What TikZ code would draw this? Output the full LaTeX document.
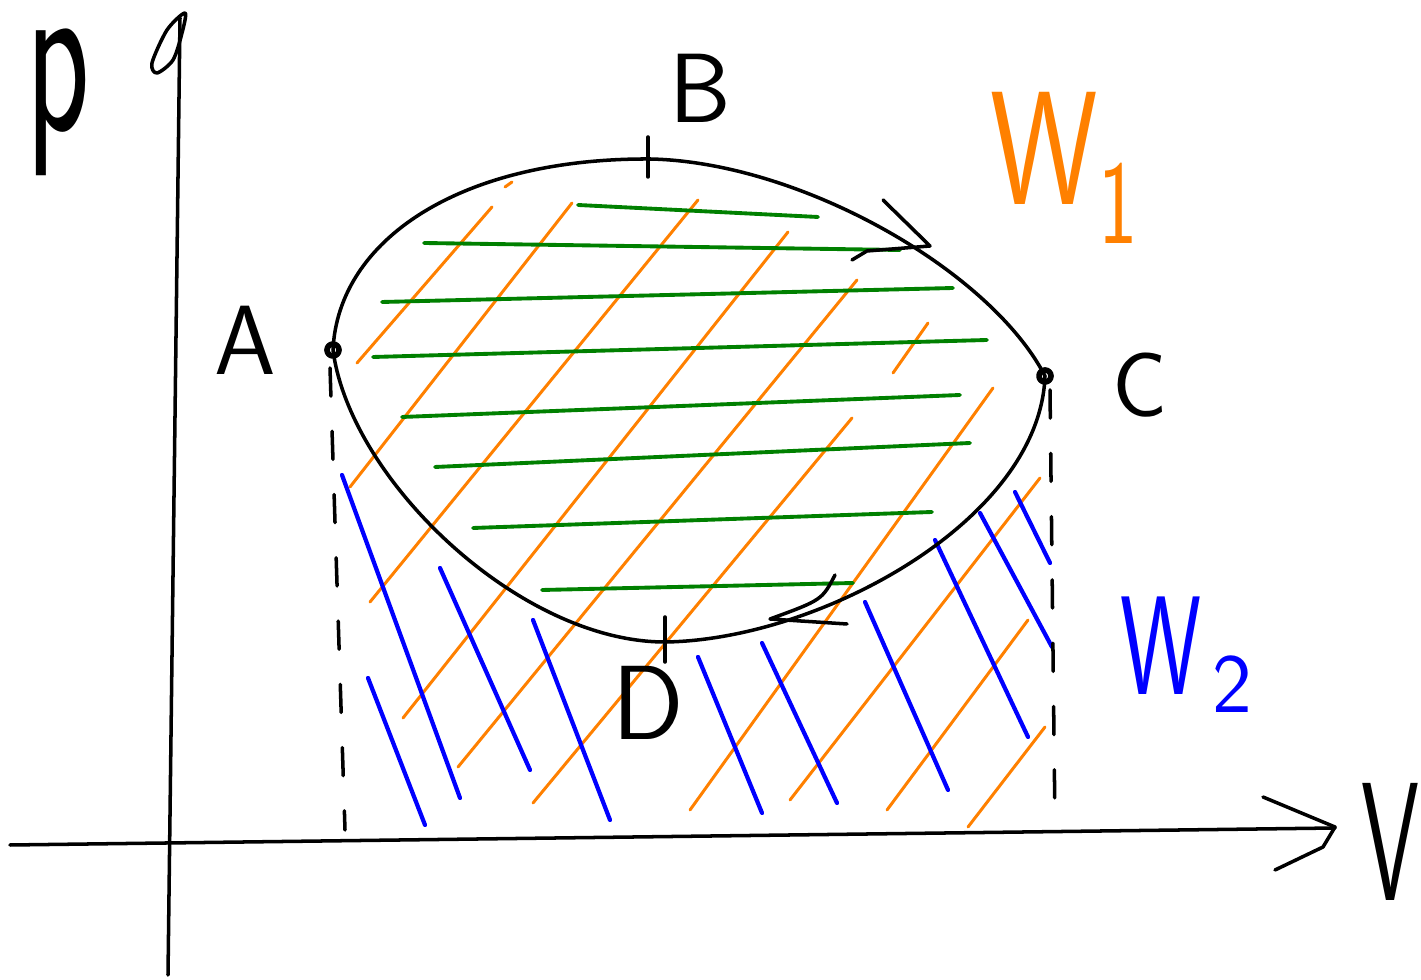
\documentclass[tikz,border=0pt]{standalone}
\usepackage{graphicx}
\usepackage{tikz}
\usetikzlibrary{arrows.meta,positioning,calc}
\definecolor{workorange}{HTML}{FF8000}
\definecolor{workgreen}{HTML}{008000}
\definecolor{workblue}{HTML}{0000FF}

\begin{document}
\begin{tikzpicture}[x=0.01cm,y=-0.01cm,
  pen/.style={black,line width=1pt,line cap=round,line join=round},
  guide/.style={pen,dash pattern=on 8pt off 10pt},
  hatchone/.style={workorange,line width=0.85pt,line cap=round},
  hatchnet/.style={workgreen,line width=1.1pt,line cap=round},
  hatchtwo/.style={workblue,line width=1.2pt,line cap=round},
  lab/.style={inner sep=0pt,font=\sffamily\fontsize{28}{28}\selectfont}]
  \useasboundingbox (0,0) rectangle (1421,980);
  % state points of the cycle
  \coordinate (A) at (333,350);
  \coordinate (B) at (650,159);
  \coordinate (C) at (1045,376);
  \coordinate (D) at (665,642);
  % hatching: work W1 under the upper path
  \draw[hatchone] (357,363)--(492,207) (350,487)--(572,203) (370,602)--(698,200)
    (403,718)--(788,232) (458,767)--(857,280) (533,803)--(852,418) (893,373)--(928,323)
    (690,810)--(993,388) (790,800)--(1040,478) (887,810)--(1028,620) (968,827)--(1045,727)
    (505,187)--(512,182);
  % hatching: net work inside the cycle
  \draw[hatchnet] (578,205)--(818,217) (424,243)--(900,250) (382,302)--(953,288)
    (373,357)--(987,340) (402,417)--(960,395) (435,467)--(970,443)
    (473,528)--(932,512) (542,590)--(853,583);
  % hatching: work W2 under the lower path
  \draw[hatchtwo] (342,475)--(460,798) (368,678)--(425,825) (440,568)--(530,770)
    (533,620)--(610,820) (698,657)--(762,813) (762,643)--(837,803) (865,602)--(948,790)
    (935,540)--(1028,737) (980,513)--(1052,647) (1015,492)--(1050,563);
  % axes
  \draw[pen] (180,18) -- (168,975);
  \draw[pen] plot[smooth cycle] coordinates {(185,13) (167,30) (152,63) (157,73) (173,60) (182,33)};
  \draw[pen] (10,845) -- (1335,828);
  \draw[pen] (1263,797) -- (1335,827) -- (1323,847) -- (1275,870);
  % cycle A-B-C-D
  \draw[pen] (A) .. controls (338,240) and (460,158) .. (B)
    .. controls (800,162) and (990,270) .. (C)
    .. controls (1040,520) and (820,640) .. (D)
    .. controls (520,642) and (350,480) .. (A);
  \draw[pen,line width=1.6pt] (A) circle[radius=6] (C) circle[radius=6];
  \draw[pen] ($(B)+(-2,-22)$) -- ($(B)+(-2,18)$);
  \draw[pen] ($(D)+(0,-25)$) -- ($(D)+(0,20)$);
  \draw[pen] (883,200) -- (930,246) -- (867,251) -- (852,260);
  \draw[pen] (835,575) .. controls (822,600) .. (770,619) -- (847,624);
  % volume guides
  \draw[guide] ($(A)+(-3,18)$) -- (345,830);
  \draw[guide] ($(C)+(5,14)$) -- (1055,826);
  % labels
  \node[lab,font=\sffamily\fontsize{44}{44}\selectfont] (plab) at (58,102) {\scalebox{0.85}[1.5]{p}};
  \node[lab,font=\sffamily\fontsize{48}{48}\selectfont] (vlab) at (1390,842) {\scalebox{0.55}[1]{V}};
  \node[lab] (alab) at (245,340) {A};
  \node[lab] (blab) at (700,88) {B};
  \node[lab,font=\sffamily\fontsize{26}{26}\selectfont] (clab) at (1140,385) {C};
  \node[lab,font=\sffamily\fontsize{30}{30}\selectfont] (dlab) at (648,703) {D};
  \node[lab,anchor=base west,text=workorange,font=\sffamily\fontsize{46}{46}\selectfont] (wone) at (990,205)
    {\scalebox{0.75}[1]{W}\raisebox{-11pt}{\fontsize{34}{34}\selectfont\scalebox{0.7}[1]{1}}};
  \node[lab,anchor=base west,text=workblue,font=\sffamily\fontsize{40}{40}\selectfont] (wtwo) at (1120,695)
    {\scalebox{0.65}[1]{W}\hspace{3pt}\raisebox{-5pt}{\fontsize{24}{24}\selectfont 2}};
\end{tikzpicture}
\end{document}
